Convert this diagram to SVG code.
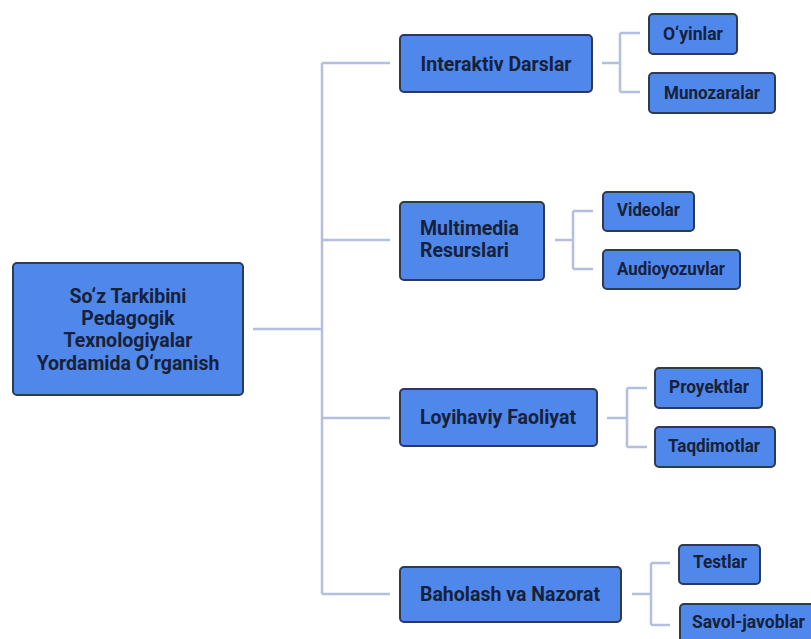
<svg xmlns="http://www.w3.org/2000/svg" width="811" height="639" viewBox="0 0 811 639">
<style>
.n{fill:#4f88ea;stroke:#2c3a52;stroke-width:2}
.t{font-family:Roboto,"Liberation Sans",sans-serif;font-weight:bold;font-size:19.5px;fill:#17213a;text-anchor:middle}
.s{font-size:19px}
.c{fill:none;stroke:#b3bfdf;stroke-width:2.5}
</style>
<rect width="811" height="639" fill="#ffffff"/>
<g id="connectors">
<path class="c" d="M253 329H322M322 63V594M322 63H390M322 240H390M322 418H390M322 594H390"/>
<path class="c" d="M602 63H620M620 33V92M620 33H640M620 92H640"/>
<path class="c" d="M555 240H573M573 211V269M573 211H593M573 269H593"/>
<path class="c" d="M607 418H627M627 388V447M627 388H647M627 447H647"/>
<path class="c" d="M632 594H651M651 563V625M651 563H670M651 625H670"/>
</g>
<g id="root"><rect class="n" x="13" y="263" width="230" height="132" rx="4"/>
<text class="t" x="128" y="303">So‘z Tarkibini</text>
<text class="t" x="128" y="325">Pedagogik</text>
<text class="t" x="128" y="347">Texnologiyalar</text>
<text class="t" x="128" y="370">Yordamida O‘rganish</text></g>
<g id="interaktiv"><rect class="n" x="400" y="35" width="192" height="57" rx="4"/><text class="t" x="496" y="71">Interaktiv Darslar</text></g>
<g id="oyinlar"><rect class="n" x="649" y="14" width="88" height="40" rx="4"/><text class="t s" x="693" y="40" textLength="60" lengthAdjust="spacingAndGlyphs">O‘yinlar</text></g>
<g id="munozaralar"><rect class="n" x="649" y="73" width="126" height="40" rx="4"/><text class="t s" x="712" y="99" textLength="96" lengthAdjust="spacingAndGlyphs">Munozaralar</text></g>
<g id="multimedia"><rect class="n" x="400" y="202" width="144" height="78" rx="4"/><text class="t" x="420" y="235" style="text-anchor:start">Multimedia</text><text class="t" x="420" y="257" style="text-anchor:start">Resurslari</text></g>
<g id="videolar"><rect class="n" x="603" y="192" width="91" height="39" rx="4"/><text class="t s" x="648.5" y="216" textLength="63" lengthAdjust="spacingAndGlyphs">Videolar</text></g>
<g id="audioyozuvlar"><rect class="n" x="603" y="250" width="137" height="39" rx="4"/><text class="t s" x="671" y="275" textLength="108" lengthAdjust="spacingAndGlyphs">Audioyozuvlar</text></g>
<g id="loyihaviy"><rect class="n" x="400" y="389" width="197" height="57" rx="4"/><text class="t" x="498" y="424">Loyihaviy Faoliyat</text></g>
<g id="proyektlar"><rect class="n" x="655" y="368" width="107" height="40" rx="4"/><text class="t s" x="709" y="393" textLength="80" lengthAdjust="spacingAndGlyphs">Proyektlar</text></g>
<g id="taqdimotlar"><rect class="n" x="655" y="427" width="120" height="40" rx="4"/><text class="t s" x="714" y="452" textLength="92" lengthAdjust="spacingAndGlyphs">Taqdimotlar</text></g>
<g id="baholash"><rect class="n" x="400" y="567" width="221" height="55" rx="4"/><text class="t" x="510" y="601">Baholash va Nazorat</text></g>
<g id="testlar"><rect class="n" x="679" y="545" width="81" height="39" rx="4"/><text class="t s" x="720" y="568" textLength="54" lengthAdjust="spacingAndGlyphs">Testlar</text></g>
<g id="savol"><rect class="n" x="680" y="604" width="140" height="42" rx="4"/><text class="t s" x="748.5" y="628" textLength="113" lengthAdjust="spacingAndGlyphs">Savol-javoblar</text></g>
</svg>
